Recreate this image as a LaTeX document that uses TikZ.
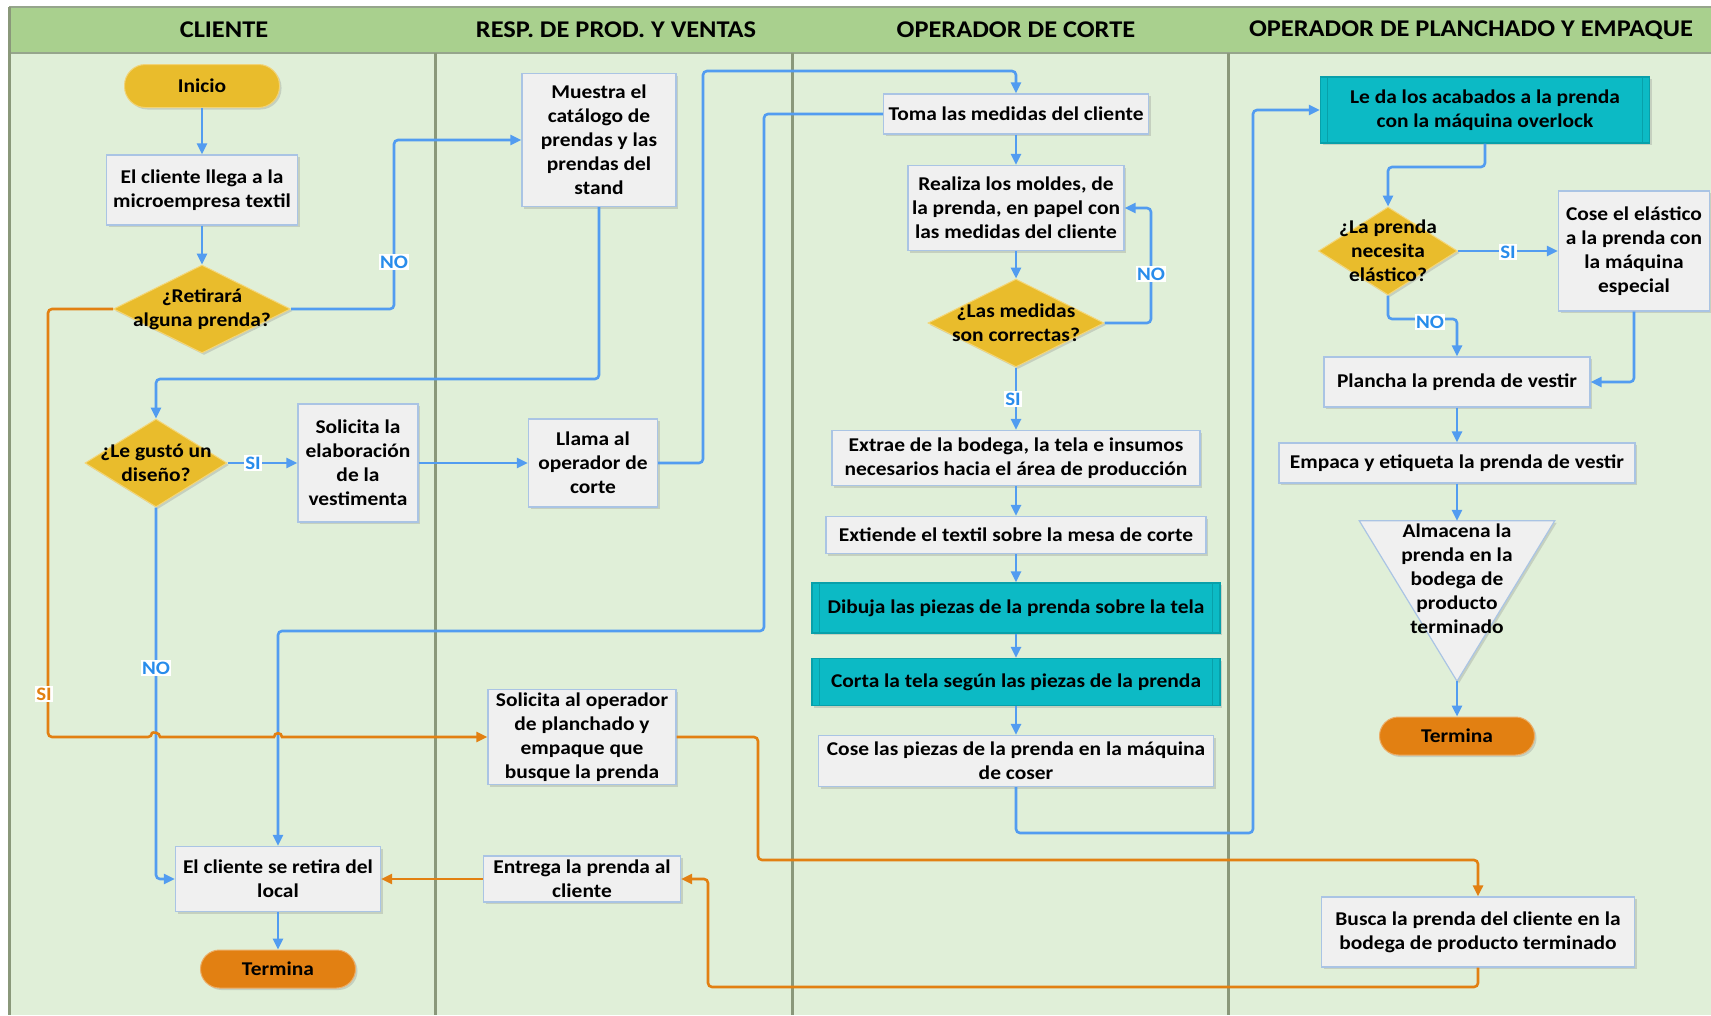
\documentclass[tikz,border=0pt]{standalone}
\usepackage{fontspec}
\setmainfont{Carlito}[FakeStretch=1.1]
\usetikzlibrary{shapes.geometric,arrows.meta,shadows}

% palette
\definecolor{lanebg}{RGB}{224,239,216}
\definecolor{headbg}{RGB}{169,208,142}
\definecolor{headline}{RGB}{150,165,140}
\definecolor{divcol}{RGB}{138,152,122}
\definecolor{boxfill}{RGB}{240,240,240}
\definecolor{boxline}{RGB}{170,196,228}
\definecolor{decfill}{RGB}{233,188,44}
\definecolor{decline}{RGB}{244,214,120}
\definecolor{tealfill}{RGB}{12,186,197}
\definecolor{tealline}{RGB}{8,160,170}
\definecolor{termfill}{RGB}{226,128,18}
\definecolor{fblue}{RGB}{82,156,240}
\definecolor{forange}{RGB}{226,128,18}
\definecolor{labblue}{RGB}{40,140,235}

\newcommand\flowtext{\bfseries\fontsize{19.5}{24}\selectfont}
\newcommand\headtext{\bfseries\fontsize{24}{28}\selectfont}
\newcommand\labtext{\bfseries\fontsize{19}{22}\selectfont}

\begin{document}
\begin{tikzpicture}[x=1pt,y=-1pt,
  softshadow/.style={drop shadow={shadow xshift=2pt,shadow yshift=-2pt,opacity=0.28}},
  proc/.style={rectangle, fill=boxfill, draw=boxline, line width=1.2pt, inner sep=0pt,
    align=center, font=\flowtext, softshadow},
  tealbox/.style={proc, fill=tealfill, draw=tealline},
  dec/.style={diamond, fill=decfill, draw=decline, line width=1pt, inner sep=0pt, softshadow},
  dtext/.style={align=center, font=\flowtext, inner sep=0pt},
  pill/.style={rectangle, draw=#1!65!white, fill=#1, line width=1pt, inner sep=0pt,
    font=\flowtext, softshadow},
  headlbl/.style={font=\headtext, inner sep=0pt},
  fb/.style={draw=fblue, line width=2.6pt, rounded corners=4pt,
    -{Triangle[length=11pt,width=10pt]}},
  fo/.style={fb, draw=forange},
  labb/.style={fill=white, text=labblue, inner sep=1.5pt, font=\labtext},
  labo/.style={labb, text=forange},
]
\useasboundingbox (0,0) rectangle (1711,1015);
\fill[white] (0,0) rectangle (1711,1015);

% swimlanes
\fill[lanebg] (9,53) rectangle (1711,1015);
\fill[headbg] (9,7) rectangle (1711,53);
\draw[headline, line width=1.2pt] (9,7) -- (1711,7);
\draw[headline, line width=1.5pt] (9,53) -- (1711,53);
\draw[divcol, line width=3pt] (9,7) -- (9,1015);
\foreach \xx in {435,792,1228} \draw[divcol, line width=3pt] (\xx,53) -- (\xx,1015);

\node[headlbl] (h1) at (224,30) {CLIENTE};
\node[headlbl] (h2) at (616,30) {RESP. DE PROD. Y VENTAS};
\node[headlbl] (h3) at (1016,30) {OPERADOR DE CORTE};
\node[headlbl] (h4) at (1471,30) {OPERADOR DE PLANCHADO Y EMPAQUE};

% lane: cliente
\node[pill=decfill, rounded corners=21pt, minimum width=155pt, minimum height=43pt] (ini) at (202,86) {Inicio};
\node[proc, minimum width=191pt, minimum height=70pt] (llega) at (202,190) {El cliente llega a la\\microempresa textil};
\node[dec, minimum width=177pt, minimum height=88pt,
  label={[dtext]center:{¿Retirará\\alguna prenda?}}] (ret) at (202,309) {};
\node[dec, minimum width=142pt, minimum height=88pt,
  label={[dtext]center:{¿Le gustó un\\diseño?}}] (gusto) at (156,463) {};
\node[proc, minimum width=120pt, minimum height=118pt] (solel) at (358,463) {Solicita la\\elaboración\\de la\\vestimenta};
\node[proc, minimum width=205pt, minimum height=65pt] (retira) at (278,879) {El cliente se retira del\\local};
\node[pill=termfill, rounded corners=19pt, minimum width=155pt, minimum height=38pt] (term1) at (278,969) {Termina};

% lane: responsable de produccion y ventas
\node[proc, minimum width=154pt, minimum height=133pt] (muestra) at (599,140) {Muestra el\\catálogo de\\prendas y las\\prendas del\\stand};
\node[proc, minimum width=129pt, minimum height=88pt] (llama) at (593,463) {Llama al\\operador de\\corte};
\node[proc, minimum width=188pt, minimum height=95pt] (solop) at (582,737) {Solicita al operador\\de planchado y\\empaque que\\busque la prenda};
\node[proc, minimum width=197pt, minimum height=46pt] (entrega) at (582,879) {Entrega la prenda al\\cliente};

% lane: operador de corte
\node[proc, minimum width=265pt, minimum height=40pt] (toma) at (1016,114) {Toma las medidas del cliente};
\node[proc, minimum width=216pt, minimum height=85pt] (moldes) at (1016,208) {Realiza los moldes, de\\la prenda, en papel con\\las medidas del cliente};
\node[dec, minimum width=176pt, minimum height=88pt,
  label={[dtext]center:{¿Las medidas\\son correctas?}}] (medidas) at (1016,323) {};
\node[proc, minimum width=368pt, minimum height=55pt] (extrae) at (1016,458) {Extrae de la bodega, la tela e insumos\\necesarios hacia el área de producción};
\node[proc, minimum width=380pt, minimum height=37pt] (extiende) at (1016,535) {Extiende el textil sobre la mesa de corte};
\node[tealbox, minimum width=408pt, minimum height=50pt] (dibuja) at (1016,608) {Dibuja las piezas de la prenda sobre la tela};
\node[tealbox, minimum width=408pt, minimum height=47pt] (corta) at (1016,682) {Corta la tela según las piezas de la prenda};
\node[proc, minimum width=395pt, minimum height=51pt] (cose) at (1016,761) {Cose las piezas de la prenda en la máquina\\de coser};

% lane: operador de planchado y empaque
\node[tealbox, minimum width=329pt, minimum height=66pt] (acab) at (1485,110) {Le da los acabados a la prenda\\con la máquina overlock};
\node[dec, minimum width=139pt, minimum height=88pt,
  label={[dtext]center:{¿La prenda\\necesita\\elástico?}}] (elas) at (1388,251) {};
\node[proc, minimum width=151pt, minimum height=120pt] (coseel) at (1634,251) {Cose el elástico\\a la prenda con\\la máquina\\especial};
\node[proc, minimum width=266pt, minimum height=50pt] (plancha) at (1457,382) {Plancha la prenda de vestir};
\node[proc, minimum width=356pt, minimum height=40pt] (empaca) at (1457,463) {Empaca y etiqueta la prenda de vestir};
\node[minimum width=195pt, minimum height=160pt, inner sep=0pt] (alm) at (1457,601) {};
\filldraw[fill=boxfill, draw=boxline, line width=1.2pt, softshadow]
  (alm.north west) -- (alm.north east) -- (alm.south) -- cycle;
\node[dtext] (almtxt) at (1457,579) {Almacena la\\prenda en la\\bodega de\\producto\\terminado};
\node[pill=termfill, rounded corners=19pt, minimum width=155pt, minimum height=38pt] (term2) at (1457,736) {Termina};
\node[proc, minimum width=313pt, minimum height=70pt] (busca) at (1478,932) {Busca la prenda del cliente en la\\bodega de producto terminado};

% inner rules of the teal process boxes
\foreach \nd in {dibuja,corta,acab} {
  \draw[tealline, line width=1pt] ([xshift=8pt]\nd.north west) -- ([xshift=8pt]\nd.south west);
  \draw[tealline, line width=1pt] ([xshift=-8pt]\nd.north east) -- ([xshift=-8pt]\nd.south east);
}

% connectors: cliente
\draw[fb] (ini.south) -- (llega.north);
\draw[fb] (llega.south) -- (ret.north);
\draw[fb] (ret.east) -| (394,140) -- (muestra.west);
\draw[fb] (muestra.south) |- (156,379) -- (gusto.north);
\draw[fb] (gusto.east) -- (solel.west);
\draw[fb] (solel.east) -- (llama.west);
\draw[fb] (llama.east) -| (703,71) -| (toma.north);
\draw[fb] (toma.west) -| (764,631) -| (retira.north);
\draw[fb] (gusto.south) |- (retira.west);
% orange branch with small line jumps over the blue verticals
\draw[fo] (ret.west) -| (48,737) -- (152,737) [sharp corners]
  .. controls (152,732) and (160,732) .. (160,737) -- (274,737)
  .. controls (274,732) and (282,732) .. (282,737) -- (solop.west);
\draw[fo] (solop.east) -| (758,860) -| (busca.north);
\draw[fo] (busca.south) |- (708,987) |- (entrega.east);
\draw[fo] (entrega.west) -- (retira.east);
\draw[fb] (retira.south) -- (term1.north);

% connectors: corte
\draw[fb] (toma.south) -- (moldes.north);
\draw[fb] (moldes.south) -- (medidas.north);
\draw[fb] (medidas.east) -| (1151,208) -- (moldes.east);
\draw[fb] (medidas.south) -- (extrae.north);
\draw[fb] (extrae.south) -- (extiende.north);
\draw[fb] (extiende.south) -- (dibuja.north);
\draw[fb] (dibuja.south) -- (corta.north);
\draw[fb] (corta.south) -- (cose.north);
\draw[fb] (cose.south) |- (1253,833) |- (acab.west);

% connectors: planchado y empaque
\draw[fb] (acab.south) |- (1388,167) -- (elas.north);
\draw[fb] (elas.east) -- (coseel.west);
\draw[fb] (elas.south) |- (1457,319) -- (plancha.north);
\draw[fb] (coseel.south) |- (plancha.east);
\draw[fb] (plancha.south) -- (empaca.north);
\draw[fb] (empaca.south) -- (alm.north);
\draw[fb] (alm.south) -- (term2.north);

% branch labels
\node[labb] (l1) at (394,262) {NO};
\node[labo] (l2) at (44,694) {SI};
\node[labb] (l3) at (253,463) {SI};
\node[labb] (l4) at (156,668) {NO};
\node[labb] (l5) at (1151,274) {NO};
\node[labb] (l6) at (1013,399) {SI};
\node[labb] (l7) at (1508,252) {SI};
\node[labb] (l8) at (1430,322) {NO};
\end{tikzpicture}
\end{document}
